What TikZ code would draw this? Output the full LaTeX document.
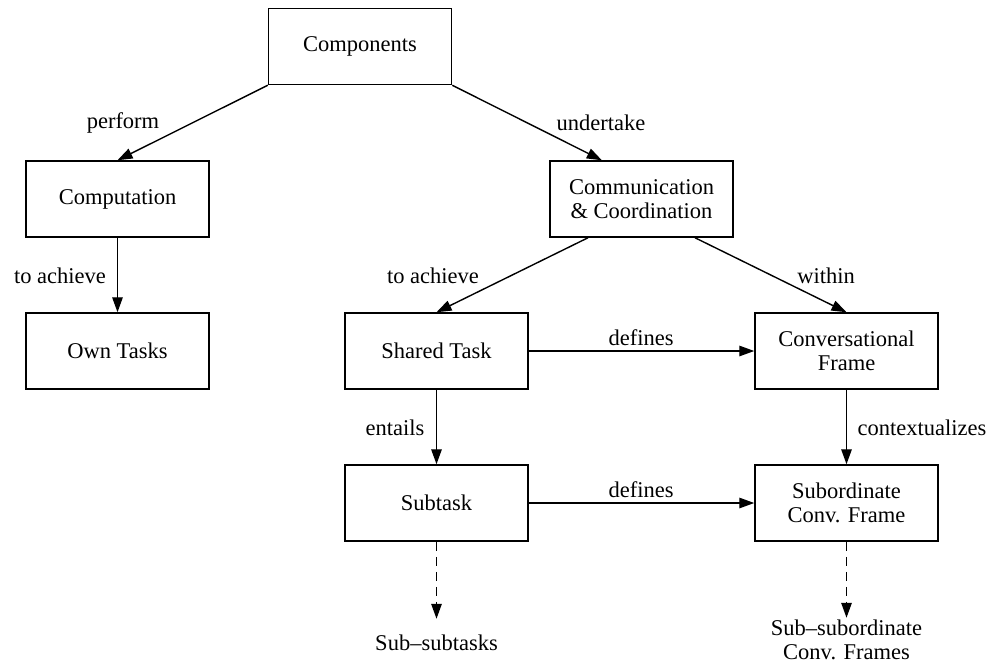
\documentclass[tikz,border=0pt]{standalone}
\usepackage{fontspec}
\setmainfont{Liberation Serif}
\usetikzlibrary{arrows.meta,calc}
\tikzset{
  box/.style={draw, line width=1.5pt, rectangle, minimum width=183pt, minimum height=76pt, inner sep=0pt, align=center},
  lbl/.style={inner sep=0pt, align=center},
  conn/.style={line width=1.4pt, -{Triangle[length=15pt,width=10.5pt]}},
  dconn/.style={conn, dash pattern=on 9pt off 6pt}
}
\begin{document}
\begin{tikzpicture}[x=1pt,y=-1pt,font=\fontsize{22.5}{24}\selectfont]
\useasboundingbox (0,0) rectangle (992,664);
\node[box] (comp) at (360,46.5) {Components};
\node[box] (cmpt) at (117.5,199) {Computation};
\node[box] (own) at (117.5,351) {Own Tasks};
\node[box] (comm) at (641.5,199) {Communication\\\& Coordination};
\node[box] (shared) at (436.5,351) {Shared Task};
\node[box] (conv) at (846.5,351) {Conversational\\Frame};
\node[box] (sub) at (436.5,503) {Subtask};
\node[box] (subconv) at (846.5,503) {Subordinate\\Conv. Frame};
\node[lbl] (subsub) at (436.5,643) {Sub--subtasks};
\node[lbl] (subsubconv) at (846.5,640) {Sub--subordinate\\Conv. Frames};
\coordinate (subsubtip) at ($(sub.south)+(0,77)$);
\coordinate (subsubconvtip) at ($(subconv.south)+(0,76)$);

\node[lbl] (lperform) at (123,123) {perform};
\node[lbl] (lundertake) at (601,123) {undertake};
\node[lbl] (lach1) at (60,276) {to achieve};
\node[lbl] (lach2) at (433,276) {to achieve};
\node[lbl] (lwithin) at (826,276) {within};
\node[lbl] (ldef1) at (641,338) {defines};
\node[lbl] (ldef2) at (641,490) {defines};
\node[lbl] (lentails) at (395,428) {entails};
\node[lbl] (lcontext) at (922,428) {contextualizes};

\draw[conn] (comp.south west) -- (cmpt.north);
\draw[conn] (comp.south east) -- ($(comm.north west)!0.285!(comm.north east)$);
\draw[conn] (cmpt.south) -- (own.north);
\draw[conn] ($(comm.south west)!0.21!(comm.south east)$) -- (shared.north);
\draw[conn] ($(comm.south west)!0.79!(comm.south east)$) -- (conv.north);
\draw[conn] (shared.east) -- (conv.west);
\draw[conn] (shared.south) -- (sub.north);
\draw[conn] (conv.south) -- (subconv.north);
\draw[conn] (sub.east) -- (subconv.west);
\draw[dconn] (sub.south) -- (subsubtip);
\draw[dconn] (subconv.south) -- (subsubconvtip);
\end{tikzpicture}
\end{document}
